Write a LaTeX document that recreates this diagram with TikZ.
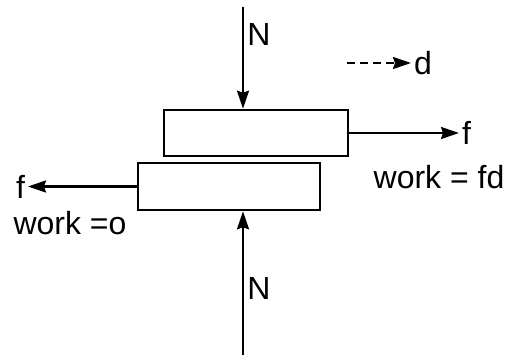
\documentclass[tikz,border=0pt]{standalone}
\usepackage{fontspec}
\setmainfont{Liberation Sans}
\usetikzlibrary{arrows.meta}
\tikzset{
    block/.style={draw, line width=1.3pt, inner sep=0pt},
    lbl/.style={inner sep=1pt, font=\fontsize{16}{19}\selectfont},
    force/.style={-{Stealth[length=9pt,width=6pt,inset=1pt]}},
}
\begin{document}
\begin{tikzpicture}[x=0.5pt, y=-0.5pt, line width=1.1pt]
    \useasboundingbox (0,0) rectangle (513,362);

    % the two blocks
    \node[block, minimum width=92pt, minimum height=23pt] (top) at (256,133) {};
    \node[block, minimum width=91pt, minimum height=23.5pt] (bot) at (229,186.5) {};

    % normal forces
    \coordinate (ntop) at (243,7);
    \coordinate (nbot) at (243,355);
    \draw[force] (ntop) -- (ntop |- top.north);
    \draw[force] (nbot) -- (nbot |- bot.south);
    \node[lbl] (ntoplab) at (259,34) {N};
    \node[lbl] (nbotlab) at (259,288) {N};

    % displacement
    \coordinate (dstart) at (347,63);
    \node[lbl, anchor=west] (dlab) at (411,63) {d};
    \draw[force, dash pattern=on 4pt off 2.5pt] (dstart) -- (dlab.west);

    % friction forces
    \node[lbl, anchor=west] (fright) at (459,133) {f};
    \draw[force] (top.east) -- (fright.west);
    \node[lbl, anchor=east] (fleft) at (28,186.5) {f};
    \draw[force] (bot.west) -- (fleft.east);

    \node[lbl] (wright) at (439,177) {work = fd};
    \node[lbl] (wleft) at (70,223) {work =o};
\end{tikzpicture}
\end{document}
